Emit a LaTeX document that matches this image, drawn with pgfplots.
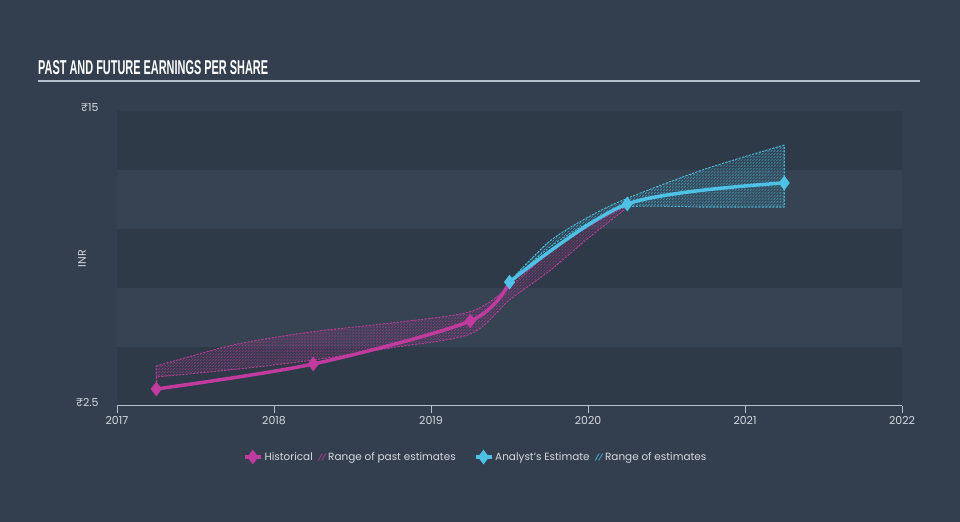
\documentclass[border=0pt]{standalone}
\usepackage{fontspec}
\setmainfont{Poppins}
\newfontfamily\titlefont{Liberation Sans}
\usepackage{graphicx}
\usepackage{pgfplots}
\pgfplotsset{compat=1.18}
\usetikzlibrary{patterns}
\definecolor{bgc}{HTML}{333F4E}
\definecolor{banddark}{HTML}{2E3A48}
\definecolor{bandlight}{HTML}{354352}
\definecolor{pinkc}{HTML}{C13B9E}
\definecolor{bluec}{HTML}{4EC1E6}
\definecolor{axisc}{HTML}{B5C0CC}
\definecolor{textc}{HTML}{D5DAE0}
\colorlet{pinkhatch}{pinkc!75!bgc}
\colorlet{bluehatch}{bluec!75!bgc}
\pgfdeclarepatternformonly{hatch}{\pgfqpoint{-1pt}{-1pt}}{\pgfqpoint{4pt}{4pt}}{\pgfqpoint{3pt}{3pt}}{%
  \pgfsetlinewidth{0.45pt}%
  \pgfpathmoveto{\pgfqpoint{0pt}{0pt}}%
  \pgfpathlineto{\pgfqpoint{3.1pt}{3.1pt}}%
  \pgfusepath{stroke}}
\pgfplotsset{
  lineleg/.style={legend image code/.code={\draw[mark repeat=2,mark phase=2,##1] plot coordinates {(0bp,0bp) (8bp,0bp) (16bp,0bp)};}},
  hatchleg/.style={legend image code/.code={%
     \draw[#1, line width=0.9bp] (0bp,-3.5bp) -- (4bp,3.5bp);
     \draw[#1, line width=0.9bp] (3.5bp,-3.5bp) -- (7.5bp,3.5bp);}},
}
\begin{document}
\begin{tikzpicture}[x=1bp,y=1bp]
\fill[bgc] (0,0) rectangle (960,522);
\fill[banddark] (117,116) rectangle (902,175);
\fill[bandlight] (117,175) rectangle (902,234);
\fill[banddark] (117,234) rectangle (902,293);
\fill[bandlight] (117,293) rectangle (902,352);
\fill[banddark] (117,352) rectangle (902,411);
\node[anchor=base west, inner sep=0, text=white] at (38,447) {\resizebox{230bp}{14bp}{\titlefont\bfseries PAST AND FUTURE EARNINGS PER SHARE}};
\draw[axisc, line width=1.5bp] (38,441) -- (920,441);
\begin{axis}[
  at={(117bp,116bp)}, anchor=south west,
  width=785bp, height=295bp, scale only axis,
  xmin=2017, xmax=2022, ymin=2.5, ymax=15,
  axis lines*=left,
  axis line style={axisc, line width=1bp},
  y axis line style={draw=none},
  xtick={2017,2018,2019,2020,2021,2022},
  xticklabels={2017,2018,2019,2020,2021,2022},
  ytick={2.5,15}, yticklabels={₹2.5,₹15},
  tick align=outside,
  major tick length=7bp,
  xtick style={axisc, line width=1bp},
  ytick style={draw=none},
  tick label style={text=textc, font=\fontsize{11}{13}\selectfont},
  yticklabel style={xshift=-8bp, yshift=3bp},
  ylabel={INR},
  ylabel style={text=textc, font=\fontsize{11}{13}\selectfont, at={(rel axis cs:-0.0446,0.5)}, anchor=center},
  legend columns=4,
  legend style={at={(0.457,-0.173)}, anchor=center, draw=none, fill=none, text=textc,
    font=\fontsize{10.5}{12}\selectfont,
    /tikz/column 2/.style={column sep=3bp},
    /tikz/column 4/.style={column sep=16bp},
    /tikz/column 6/.style={column sep=3bp}},
]
\addlegendimage{pinkc, line width=3.5bp, mark=diamond*, mark size=4.5bp, lineleg}
\addlegendentry{Historical}
\addlegendimage{hatchleg=pinkhatch}
\addlegendentry{Range of past estimates}
\addlegendimage{bluec, line width=3.5bp, mark=diamond*, mark size=4.5bp, lineleg}
\addlegendentry{Analyst's Estimate}
\addlegendimage{hatchleg=bluehatch}
\addlegendentry{Range of estimates}

% Range of past estimates: upper edge forward, lower edge back
\addplot[pinkc, line width=0.6bp, dash pattern=on 2bp off 1.5bp, smooth, tension=0.5,
  fill=pinkc, fill opacity=0.08,
  postaction={pattern=hatch, pattern color=pinkhatch, fill opacity=1},
  forget plot] coordinates {
(2017.25,4.19) (2017.75,5.1) (2018.25,5.65) (2018.75,6.02) (2019.25,6.5) (2019.5,7.55) (2019.75,9.0) (2020.0,10.1)
(2020.25,10.95)
(2020.0,9.6) (2019.75,8.2) (2019.5,6.99) (2019.25,5.55) (2018.75,4.97) (2018.25,4.45) (2017.75,4.05) (2017.25,3.73)} -- cycle;
\addplot[pinkc, line width=0.6bp, dash pattern=on 2bp off 1.5bp, forget plot] coordinates {(2017.25,3.22) (2017.25,3.73)};

% Range of estimates: upper edge back, lower edge forward
\addplot[bluec, line width=0.6bp, dash pattern=on 2bp off 1.5bp, smooth, tension=0.5,
  fill=bluec, fill opacity=0.08,
  postaction={pattern=hatch, pattern color=bluehatch, fill opacity=1},
  forget plot] coordinates {
(2021.25,13.56) (2020.75,12.55) (2020.25,11.3) (2020.0,10.5) (2019.75,9.45)
(2019.5,7.75)
(2019.75,9.2) (2020.0,10.25) (2020.25,10.93) (2020.75,10.93) (2021.25,10.93)} -- cycle;

% Historical
\addplot[pinkc, line width=3.5bp, smooth, mark=diamond*, mark size=4.5bp, mark indices={1,2,3}, forget plot] coordinates {
(2017.25,3.22) (2018.25,4.28) (2019.25,6.1) (2019.5,7.75)};
% Analyst's estimate
\addplot[bluec, line width=3.5bp, smooth, mark=diamond*, mark size=4.5bp, forget plot] coordinates {
(2019.5,7.75) (2020.25,11.06) (2021.25,11.95)};
\end{axis}
\end{tikzpicture}
\end{document}
